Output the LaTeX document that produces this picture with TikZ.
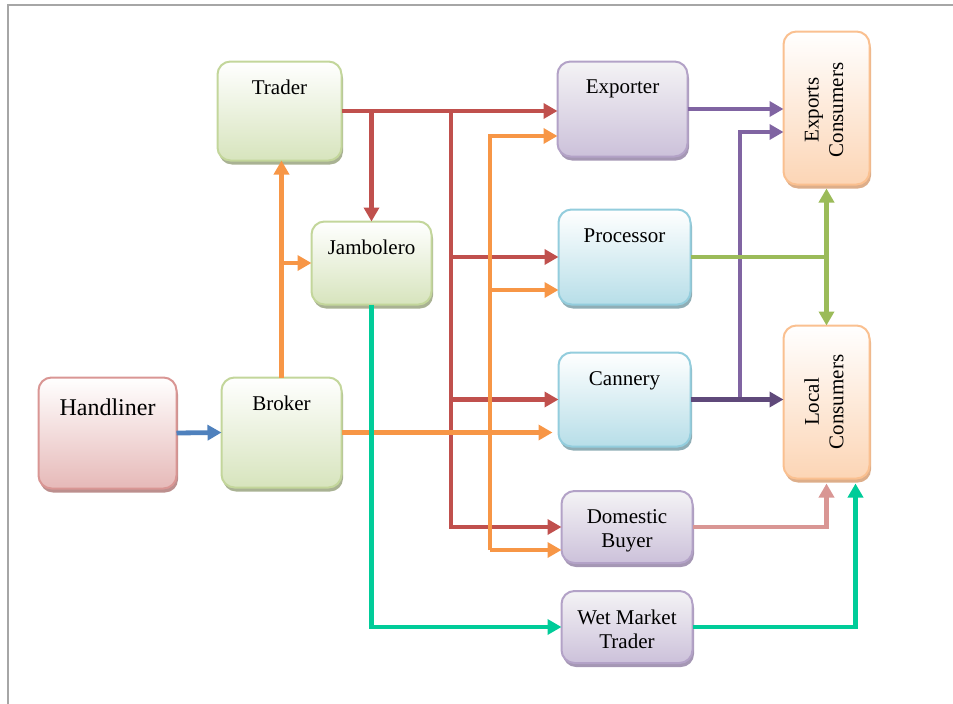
\documentclass[tikz,border=0pt]{standalone}
\usepackage{fontspec}
\setmainfont{Liberation Serif}
\usetikzlibrary{arrows.meta,shadows}
\definecolor{frameC}{HTML}{A6A6A6}
\definecolor{grnB}{HTML}{C3D69B}
\definecolor{grnF}{HTML}{D7E4BD}
\definecolor{grnS}{HTML}{A9B293}
\definecolor{pnkB}{HTML}{D99694}
\definecolor{pnkF}{HTML}{E6B9B8}
\definecolor{pnkS}{HTML}{BC8F8E}
\definecolor{purB}{HTML}{B3A2C7}
\definecolor{purT}{HTML}{F4F3F5}
\definecolor{purF}{HTML}{CCC1DA}
\definecolor{purS}{HTML}{A597B4}
\definecolor{bluB}{HTML}{93CDDD}
\definecolor{bluF}{HTML}{B7DEE8}
\definecolor{bluS}{HTML}{8FAEB6}
\definecolor{orgB}{HTML}{FAC090}
\definecolor{orgF}{HTML}{FCD5B5}
\definecolor{orgS}{HTML}{DDAE8A}
\definecolor{lRed}{HTML}{C0504D}
\definecolor{lOrg}{HTML}{F79646}
\definecolor{lBlu}{HTML}{4F81BD}
\definecolor{lPur}{HTML}{8064A2}
\definecolor{lDPur}{HTML}{5F497A}
\definecolor{lGrn}{HTML}{9BBB59}
\definecolor{lPnk}{HTML}{D99694}
\definecolor{lTel}{HTML}{00CC99}
\tikzset{
  box/.style={shape=rectangle, rounded corners=13pt, line width=2pt, inner sep=0pt, outer sep=0pt},
  greenbox/.style={box, draw=grnB, top color=white, bottom color=grnF,
    general shadow={fill=grnS, shadow xshift=1.5pt, shadow yshift=-4pt}},
  pinkbox/.style={box, draw=pnkB, top color=white, bottom color=pnkF,
    general shadow={fill=pnkS, shadow xshift=1.5pt, shadow yshift=-4pt}},
  purplebox/.style={box, draw=purB, top color=purT, bottom color=purF,
    general shadow={fill=purS, shadow xshift=1.5pt, shadow yshift=-4pt}},
  bluebox/.style={box, draw=bluB, top color=white, bottom color=bluF,
    general shadow={fill=bluS, shadow xshift=1.5pt, shadow yshift=-4pt}},
  orangebox/.style={box, draw=orgB, top color=white, bottom color=orgF,
    general shadow={fill=orgS, shadow xshift=1.5pt, shadow yshift=-4pt}},
  lbl/.style={font=\fontsize{21}{24}\selectfont, inner sep=0pt, align=center, anchor=north, yshift=-18.5pt},
  rlbl/.style={font=\fontsize{21}{24.5}\selectfont, inner sep=0pt, align=center, rotate=90},
  tipshape/.style={-{Triangle[length=14pt,width=15pt]}},
  conn/.style={line width=4.8pt, tipshape},
  plainline/.style={line width=4.8pt},
}
\begin{document}
\begin{tikzpicture}[x=1pt,y=-1pt]
\useasboundingbox (0,0) rectangle (953,704);
% frame
\draw[frameC, line width=2.5pt] (8,704) -- (8,5) -- (953,5);

% boxes
\node[pinkbox, minimum width=138pt, minimum height=111pt] (handliner) at (107.5,433) {};
\node[greenbox, minimum width=120pt, minimum height=110pt] (broker) at (281.5,432.5) {};
\node[greenbox, minimum width=124pt, minimum height=99pt] (trader) at (279.5,111) {};
\node[greenbox, minimum width=120pt, minimum height=83pt] (jambolero) at (371.5,263) {};
\node[purplebox, minimum width=130pt, minimum height=95pt] (exporter) at (622.5,109) {};
\node[bluebox, minimum width=132pt, minimum height=95pt] (processor) at (624.5,257) {};
\node[bluebox, minimum width=132pt, minimum height=94pt] (cannery) at (624.5,399.5) {};
\node[purplebox, minimum width=131pt, minimum height=72pt] (domestic) at (627,527) {};
\node[purplebox, minimum width=131pt, minimum height=72pt] (wet) at (627,627) {};
\node[orangebox, minimum width=86pt, minimum height=153pt] (expcons) at (826.5,108) {};
\node[orangebox, minimum width=86pt, minimum height=153pt] (loccons) at (826.5,402) {};

% texts
\node[lbl, font=\fontsize{24}{28}\selectfont, yshift=-3pt] (handlinerT) at (handliner.north) {Handliner};
\node[lbl] (brokerT) at (broker.north) {Broker};
\node[lbl] (traderT) at (trader.north) {Trader};
\node[lbl] (jamboleroT) at (jambolero.north) {Jambolero};
\node[lbl] (exporterT) at (exporter.north) {Exporter};
\node[lbl, yshift=-1pt] (processorT) at (processor.north) {Processor};
\node[lbl] (canneryT) at (cannery.north) {Cannery};
\node[lbl] (domesticT) at (domestic.north) {Domestic\\Buyer};
\node[lbl] (wetT) at (wet.north) {Wet Market\\Trader};
\node[rlbl] (expconsT) at ([xshift=-2.5pt,yshift=-2pt]expcons.center) {Exports\\Consumers};
\node[rlbl] (locconsT) at ([xshift=-2.5pt]loccons.center) {Local\\Consumers};

% junction coordinates
\coordinate (rX) at (451,111);
\coordinate (oTop) at (490,136);
\coordinate (oProc) at (490,290);
\coordinate (oBot) at (490,550);
\coordinate (pB) at (740,132);
\coordinate (tX) at (855.5,627);

% red connectors (Trader)
\draw[conn, lRed] (trader.east) -- (trader.east -| exporter.west);
\draw[conn, lRed] (trader.east -| jambolero.north) -- (jambolero.north);
\draw[conn, lRed] (rX) |- (domestic.west);
\draw[conn, lRed] (rX |- processor.west) -- (processor.west);
\draw[conn, lRed] (rX |- cannery.west) -- (cannery.west);

% orange connectors (Broker)
\draw[conn, lOrg] (broker.north) -- (broker.north |- trader.south);
\draw[conn, lOrg] (broker.north |- jambolero.west) -- (jambolero.west);
\draw[conn, lOrg, shorten >=6pt] (broker.east) -- (broker.east -| cannery.west);
\draw[conn, lOrg] (oBot) -- (oTop) -- (oTop -| exporter.west);
\draw[conn, lOrg] (oProc) -- (oProc -| processor.west);
\draw[conn, lOrg] (oBot) -- (oBot -| domestic.west);

% teal connectors
\draw[conn, lTel] (jambolero.south) |- (wet.west);
\draw[conn, lTel, shorten >=5pt] (wet.east) -| (tX |- loccons.south);

% blue
\draw[conn, lBlu] (handliner.east) -- (broker.west);

% purple
\draw[conn, lPur] (exporter.east) -- (exporter.east -| expcons.west);
\draw[conn, lPur] (pB |- cannery.east) -- (pB) -- (pB -| expcons.west);
\draw[conn, lDPur] (cannery.east) -- (cannery.east -| loccons.west);

% green
\draw[plainline, lGrn] (processor.east) -- (processor.east -| expcons.south);
\draw[plainline, lGrn, {Triangle[length=14pt,width=15pt]}-{Triangle[length=14pt,width=15pt]}, shorten <=4pt] (expcons.south) -- (loccons.north);

% pink
\draw[conn, lPnk, shorten >=5pt] (domestic.east) -| (loccons.south);
\end{tikzpicture}
\end{document}
